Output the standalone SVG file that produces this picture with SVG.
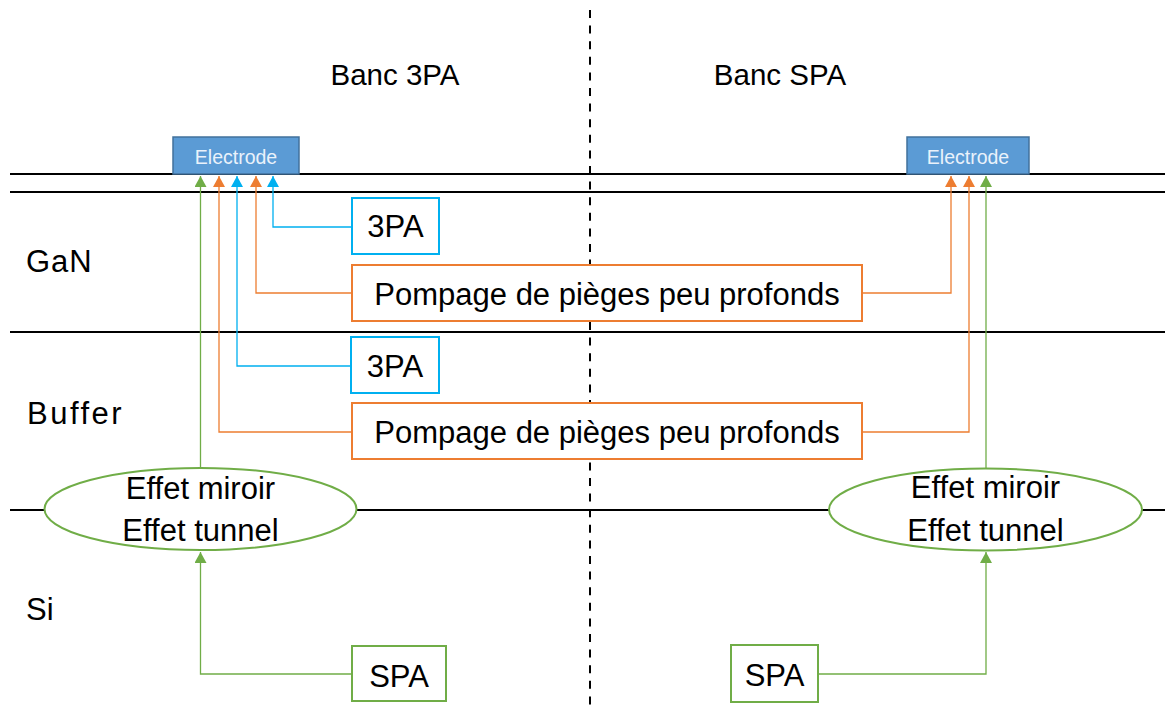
<svg xmlns="http://www.w3.org/2000/svg" width="1165" height="725" viewBox="0 0 1165 725">
<style>
text{font-family:"Liberation Sans",Arial,sans-serif;fill:#000}
.lbl{font-size:31px}
.mid{text-anchor:middle}
.layer{stroke:#000;stroke-width:2;fill:none}
.dash{stroke:#000;stroke-width:2;stroke-dasharray:8 7.6;fill:none}
.elec{fill:#5B9BD5;stroke:#41719C;stroke-width:1.5}
.etxt{font-size:19.5px;fill:#EAF2FB;text-anchor:middle}
.bbox{fill:#fff;stroke:#00B0F0;stroke-width:2}
.obox{fill:#fff;stroke:#ED7D31;stroke-width:2}
.gbox{fill:#fff;stroke:#70AD47;stroke-width:2}
.cb{stroke:#00B0F0;stroke-width:1.3;fill:none}
.co{stroke:#ED7D31;stroke-width:1.3;fill:none}
.cg{stroke:#70AD47;stroke-width:1.3;fill:none}
</style>
<defs>
<marker id="ab" viewBox="0 0 11 12" markerWidth="11" markerHeight="12" refX="11" refY="6" orient="auto" markerUnits="userSpaceOnUse"><path d="M0,0 L11,6 L0,12 z" fill="#00B0F0"/></marker>
<marker id="ao" viewBox="0 0 11 12" markerWidth="11" markerHeight="12" refX="11" refY="6" orient="auto" markerUnits="userSpaceOnUse"><path d="M0,0 L11,6 L0,12 z" fill="#ED7D31"/></marker>
<marker id="ag" viewBox="0 0 11 12" markerWidth="11" markerHeight="12" refX="11" refY="6" orient="auto" markerUnits="userSpaceOnUse"><path d="M0,0 L11,6 L0,12 z" fill="#70AD47"/></marker>
</defs>
<rect width="1165" height="725" fill="#fff"/>
<g id="layers">
<line class="layer" x1="10" y1="174" x2="1165" y2="174"/>
<line class="layer" x1="10" y1="192" x2="1165" y2="192"/>
<line class="layer" x1="10" y1="332" x2="1165" y2="332"/>
<line class="layer" x1="10" y1="510" x2="1165" y2="510"/>
<line class="dash" x1="590" y1="10" x2="590" y2="712"/>
</g>
<g id="labels">
<text class="lbl" x="26" y="272" style="letter-spacing:1px">GaN</text>
<text class="lbl" x="27" y="424" style="letter-spacing:2.5px">Buffer</text>
<text class="lbl" x="26" y="620">Si</text>
<text class="mid" x="395" y="85" style="font-size:29.5px">Banc 3PA</text>
<text class="mid" x="780" y="85" style="font-size:29.5px">Banc SPA</text>
</g>
<g id="connectors">
<path class="cg" d="M200.5,468 V176" marker-end="url(#ag)"/>
<path class="co" d="M352,432 H219 V176" marker-end="url(#ao)"/>
<path class="cb" d="M351,366 H237 V176" marker-end="url(#ab)"/>
<path class="co" d="M352,293 H256 V176" marker-end="url(#ao)"/>
<path class="cb" d="M352,227 H273 V176" marker-end="url(#ab)"/>
<path class="cg" d="M352,674 H200.5 V552" marker-end="url(#ag)"/>
<path class="co" d="M862,293 H951 V176" marker-end="url(#ao)"/>
<path class="co" d="M862,432 H969 V176" marker-end="url(#ao)"/>
<path class="cg" d="M986,469 V176" marker-end="url(#ag)"/>
<path class="cg" d="M818,674 H986 V552" marker-end="url(#ag)"/>
</g>
<g id="electrode-left">
<rect class="elec" x="173" y="137" width="126" height="37"/>
<text class="etxt" x="236" y="164">Electrode</text>
</g>
<g id="electrode-right">
<rect class="elec" x="907" y="137" width="122" height="37"/>
<text class="etxt" x="968" y="164">Electrode</text>
</g>
<g id="box-3pa-gan">
<rect class="bbox" x="352" y="198" width="87" height="56"/>
<text class="lbl mid" x="395.5" y="237">3PA</text>
</g>
<g id="box-pompage-gan">
<rect class="obox" x="352" y="265" width="510" height="56"/>
<text class="lbl mid" x="607" y="305">Pompage de pièges peu profonds</text>
</g>
<g id="box-3pa-buffer">
<rect class="bbox" x="351" y="337" width="88" height="56"/>
<text class="lbl mid" x="395" y="377">3PA</text>
</g>
<g id="box-pompage-buffer">
<rect class="obox" x="352" y="403" width="510" height="56"/>
<text class="lbl mid" x="607" y="443">Pompage de pièges peu profonds</text>
</g>
<g id="ellipse-left">
<ellipse class="gbox" cx="200.5" cy="509" rx="156" ry="41"/>
<text class="lbl mid" x="200.5" y="499">Effet miroir</text>
<text class="lbl mid" x="200.5" y="541">Effet tunnel</text>
</g>
<g id="ellipse-right">
<ellipse class="gbox" cx="985.5" cy="509.5" rx="156.5" ry="41"/>
<text class="lbl mid" x="985.5" y="498">Effet miroir</text>
<text class="lbl mid" x="985.5" y="541">Effet tunnel</text>
</g>
<g id="spa-left">
<rect class="gbox" x="352" y="646" width="94" height="55"/>
<text class="lbl mid" x="399" y="687">SPA</text>
</g>
<g id="spa-right">
<rect class="gbox" x="731" y="645" width="87" height="57"/>
<text class="lbl mid" x="774.5" y="686">SPA</text>
</g>
</svg>
